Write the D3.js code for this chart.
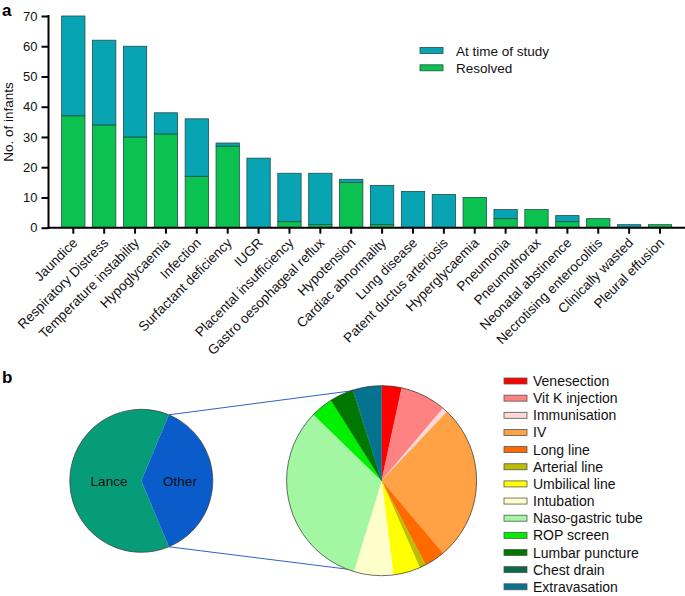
<!DOCTYPE html>
<html>
<head>
<meta charset="utf-8">
<script src="https://cdn.jsdelivr.net/npm/d3@7"></script>
<style>
  body { margin: 0; background: #fff; }
  svg { display: block; font-family: "Liberation Sans", Arial, sans-serif; }
</style>
</head>
<body>
<svg id="chart" width="685" height="596"></svg>
<script>
// ---------- Panel a data ----------
const categories = ["Jaundice", "Respiratory Distress", "Temperature instability", "Hypoglycaemia",
  "Infection", "Surfactant deficiency", "IUGR", "Placental insufficiency", "Gastro oesophageal reflux",
  "Hypotension", "Cardiac abnormality", "Lung disease", "Patent ductus arteriosis", "Hyperglycaemia",
  "Pneumonia", "Pneumothorax", "Neonatal abstinence", "Necrotising enterocolitis", "Clinically wasted",
  "Pleural effusion"];
const resolved =      [37, 34, 30, 31, 17, 27, 0, 2, 1, 15, 1, 0, 0, 10, 3, 6, 2, 3, 0, 1];
const atTimeOfStudy = [33, 28, 30, 7, 19, 1, 23, 16, 17, 1, 13, 12, 11, 0, 3, 0, 2, 0, 1, 0];
const yTicks = [0, 10, 20, 30, 40, 50, 60, 70];
const seriesNames = ["At time of study", "Resolved"];

// ---------- Panel b data ----------
const outerLabels = ["Lance", "Other"];
const outerValues = [62.6, 37.4];
const procLabels = ["Venesection", "Vit K injection", "Immunisation", "IV", "Long line", "Arterial line",
  "Umbilical line", "Intubation", "Naso-gastric tube", "ROP screen", "Lumbar puncture", "Chest drain",
  "Extravasation"];
const procValues = [3.4, 7.8, 0.9, 26.8, 3.5, 1.1, 4.6, 6.7, 32.6, 3.8, 4.0, 0.15, 4.8];
const procColors = ["#ff0000", "#ff8282", "#ffd9d9", "#ffa245", "#ff6a00", "#bdbd00", "#ffff00",
  "#ffffcc", "#a3f7a3", "#00f000", "#007800", "#0b6848", "#05728f"];

const svg = d3.select("#chart");
const teal = "#08a4b4", green = "#0bc150";

// ================= Panel a =================
const axisX = 48.5, axisY = 227.7, topY = 16;
const x = d3.scaleBand().domain(categories).range([57.86, 675.46]).paddingInner(0.245).paddingOuter(0.1225);
const y = d3.scaleLinear().domain([0, 70]).range([axisY, topY]);

const stackData = categories.map((c, i) => ({cat: c, resolved: resolved[i], atTime: atTimeOfStudy[i]}));
const stack = d3.stack().keys(["resolved", "atTime"])(stackData);
const fills = {resolved: green, atTime: teal};

svg.append("g").selectAll("g").data(stack).join("g")
  .attr("fill", d => fills[d.key])
  .selectAll("rect").data(d => d.filter(p => p[1] - p[0] > 0)).join("rect")
  .attr("x", d => x(d.data.cat))
  .attr("width", x.bandwidth())
  .attr("y", d => y(d[1]))
  .attr("height", d => y(d[0]) - y(d[1]))
  .attr("stroke", "#1f4f48").attr("stroke-width", 0.8);

// y axis
const yAxis = svg.append("g").attr("transform", `translate(${axisX},0)`)
  .call(d3.axisLeft(y).tickValues(yTicks).tickSize(7).tickPadding(4).tickSizeOuter(0));
yAxis.select(".domain").remove();
yAxis.selectAll(".tick line").attr("stroke", "#000").attr("stroke-width", 2);
yAxis.selectAll(".tick text").attr("font-size", 13).attr("fill", "#111")
  .attr("font-family", "Liberation Sans, Arial, sans-serif");
svg.append("line").attr("x1", axisX).attr("x2", axisX).attr("y1", topY - 1).attr("y2", axisY + 1)
  .attr("stroke", "#000").attr("stroke-width", 2);

// x axis
const xAxis = svg.append("g").attr("transform", `translate(0,${axisY})`)
  .call(d3.axisBottom(x).tickSize(6).tickSizeOuter(0));
xAxis.select(".domain").remove();
xAxis.selectAll(".tick line").attr("stroke", "#000").attr("stroke-width", 2);
xAxis.selectAll(".tick text")
  .attr("font-size", 13.5).attr("fill", "#111")
  .attr("font-family", "Liberation Sans, Arial, sans-serif")
  .attr("text-anchor", "end")
  .attr("y", 0).attr("dy", 0)
  .attr("transform", "translate(5,16) rotate(-45)");
svg.append("line").attr("x1", axisX - 1).attr("x2", 685).attr("y1", axisY).attr("y2", axisY)
  .attr("stroke", "#000").attr("stroke-width", 2);

svg.append("text").attr("transform", `translate(13,122) rotate(-90)`)
  .attr("text-anchor", "middle").attr("font-size", 13.5).attr("fill", "#111").text("No. of infants");

svg.append("text").attr("x", 2).attr("y", 16).attr("font-size", 17).attr("font-weight", "bold").text("a");

// legend a
const legA = svg.append("g");
[teal, green].forEach((c, i) => {
  legA.append("rect").attr("x", 420).attr("y", 47.5 + i * 17.3).attr("width", 23).attr("height", 6)
    .attr("fill", c).attr("stroke", "#1f4f48").attr("stroke-width", 0.8);
  legA.append("text").attr("x", 456).attr("y", 55.5 + i * 17.3).attr("font-size", 13.5).attr("fill", "#111")
    .text(seriesNames[i]);
});

// ================= Panel b =================
svg.append("text").attr("x", 2).attr("y", 383).attr("font-size", 17).attr("font-weight", "bold").text("b");

const c1 = {x: 141.3, y: 480.8, r: 71.5};
const c2 = {x: 381.6, y: 480.7, r: 95};

const otherAngle = outerValues[1] / d3.sum(outerValues) * 2 * Math.PI;
const pie1 = d3.pie().sort(null).startAngle(Math.PI / 2 + otherAngle / 2)
  .endAngle(Math.PI / 2 + otherAngle / 2 + 2 * Math.PI)(outerValues);
const arc1 = d3.arc().innerRadius(0).outerRadius(c1.r);

// connecting lines (from Other slice edges to the detail pie)
const a0 = pie1[1].startAngle, a1 = pie1[1].endAngle;
const pTop = [c1.x + c1.r * Math.sin(a0), c1.y - c1.r * Math.cos(a0)];
const pBot = [c1.x + c1.r * Math.sin(a1), c1.y - c1.r * Math.cos(a1)];
svg.append("line").attr("x1", pTop[0]).attr("y1", pTop[1]).attr("x2", 354).attr("y2", 390.5)
  .attr("stroke", "#2f62c4").attr("stroke-width", 1);
svg.append("line").attr("x1", pBot[0]).attr("y1", pBot[1]).attr("x2", 354).attr("y2", 570)
  .attr("stroke", "#2f62c4").attr("stroke-width", 1);

const g1 = svg.append("g").attr("transform", `translate(${c1.x},${c1.y})`);
g1.selectAll("path").data(pie1).join("path").attr("d", arc1)
  .attr("fill", (d, i) => ["#069c78", "#0a5ccb"][i]);
g1.append("circle").attr("r", c1.r).attr("fill", "none").attr("stroke", "#333").attr("stroke-width", 0.7);
g1.append("text").attr("x", 109 - c1.x).attr("y", 5).attr("text-anchor", "middle")
  .attr("font-size", 13.5).attr("fill", "#111").text(outerLabels[0]);
g1.append("text").attr("x", 180 - c1.x).attr("y", 5).attr("text-anchor", "middle")
  .attr("font-size", 13.5).attr("fill", "#111").text(outerLabels[1]);

const pie2 = d3.pie().sort(null)(procValues);
const arc2 = d3.arc().innerRadius(0).outerRadius(c2.r);
const g2 = svg.append("g").attr("transform", `translate(${c2.x},${c2.y})`);
g2.selectAll("path").data(pie2).join("path").attr("d", arc2)
  .attr("fill", (d, i) => procColors[i]).attr("stroke", (d, i) => procColors[i]).attr("stroke-width", 0.3);
g2.append("circle").attr("r", c2.r).attr("fill", "none").attr("stroke", "#333").attr("stroke-width", 0.7);

// legend b
const legB = svg.append("g");
procLabels.forEach((lab, i) => {
  const by = 386 + i * 17.15;
  legB.append("rect").attr("x", 504).attr("y", by - 8).attr("width", 23).attr("height", 6)
    .attr("fill", procColors[i]).attr("stroke", "#555").attr("stroke-width", 0.8);
  legB.append("text").attr("x", 533).attr("y", by).attr("font-size", 14).attr("fill", "#111").text(lab);
});
</script>
</body>
</html>
